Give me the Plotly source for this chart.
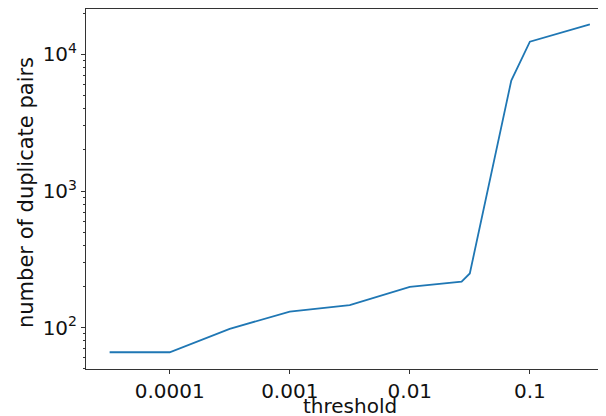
import numpy as np
import plotly.graph_objects as go

# Data
thresholds = [0.0000316, 0.0001, 0.000316, 0.001, 0.00316, 0.01, 0.027, 0.0316, 0.07, 0.1, 0.316]
duplicate_pairs = [66, 66, 98, 131, 146, 199, 217, 249, 6440, 12400, 16600]

x_tick_vals = [0.0001, 0.001, 0.01, 0.1]
x_tick_text = ["0.0001", "0.001", "0.01", "0.1"]
y_tick_vals = [100, 1000, 10000]
y_tick_text = ["10<sup>2</sup>", "10<sup>3</sup>", "10<sup>4</sup>"]

y_minor = [k * 10 ** d for d in range(1, 5) for k in range(2, 10)]

FONT = "DejaVu Sans"
AXIS_COLOR = "#333333"
TEXT_COLOR = "#111111"

# The page body adds an 8px offset, so the figure is sized/offset to compensate.
W, H = 598, 408
ML, MT, MB = 78, 1, 47
plot_h = H - MT - MB
plot_w = W - ML

fig = go.Figure()
fig.add_trace(go.Scatter(
    x=thresholds, y=duplicate_pairs, mode="lines",
    line=dict(color="#1f77b4", width=1.8),
    showlegend=False, hoverinfo="skip",
))

fig.update_layout(
    width=W, height=H,
    margin=dict(l=ML, r=0, t=MT, b=MB, pad=0),
    paper_bgcolor="white", plot_bgcolor="white",
    font=dict(family=FONT, size=20, color=TEXT_COLOR),
    xaxis=dict(
        type="log", range=[-4.697, -0.366],
        tickmode="array", tickvals=x_tick_vals, ticktext=x_tick_text,
        ticks="outside", ticklen=4, tickwidth=1, tickcolor=AXIS_COLOR,
        showline=True, linecolor=AXIS_COLOR, linewidth=1, mirror=True,
        showgrid=False, zeroline=False, automargin=False,
        tickfont=dict(family=FONT, size=20, color=TEXT_COLOR),
    ),
    yaxis=dict(
        type="log", range=[1.697, 4.333],
        tickmode="array", tickvals=y_tick_vals, ticktext=y_tick_text,
        ticks="outside", ticklen=4, tickwidth=1, tickcolor=AXIS_COLOR,
        minor=dict(tickmode="array", tickvals=y_minor, ticks="outside",
                   ticklen=2, tickwidth=1, tickcolor=AXIS_COLOR, showgrid=False),
        showline=True, linecolor=AXIS_COLOR, linewidth=1, mirror=False,
        showgrid=False, zeroline=False, automargin=False,
        tickfont=dict(family=FONT, size=20, color=TEXT_COLOR),
    ),
    annotations=[
        dict(text="threshold", xref="paper", yref="paper",
             x=(349.5 - 86) / plot_w, y=(plot_h + MT - 398) / plot_h,
             xanchor="center", yanchor="middle", borderpad=0,
             showarrow=False, font=dict(family=FONT, size=20, color=TEXT_COLOR)),
        dict(text="number of duplicate pairs", xref="paper", yref="paper",
             x=(17.5 - ML) / plot_w, y=(plot_h + MT - 184.5) / plot_h,
             xanchor="center", yanchor="middle", textangle=-90, borderpad=0,
             showarrow=False, font=dict(family=FONT, size=21, color=TEXT_COLOR)),
    ],
)

fig.write_html("out.html")
